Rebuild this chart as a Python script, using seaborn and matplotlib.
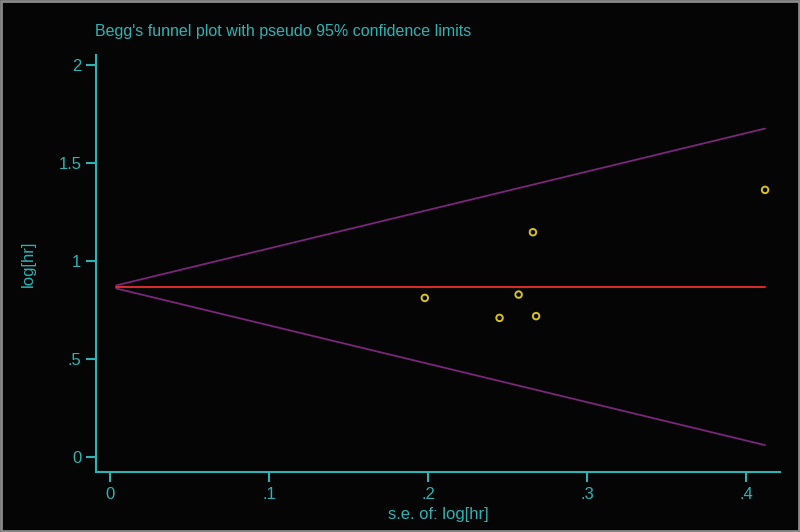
import matplotlib
matplotlib.use("Agg")
import matplotlib.pyplot as plt
import matplotlib.ticker as ticker
import pandas as pd
import seaborn as sns

# study estimates
se = [0.198, 0.245, 0.257, 0.266, 0.268, 0.412]
loghr = [0.811, 0.709, 0.828, 1.146, 0.718, 1.362]

# pooled estimate and pseudo 95% limits
pooled = 0.867
line_se = [0.004, 0.412]
upper = [0.875, 1.675]
lower = [0.859, 0.060]

xticks = [0, 0.1, 0.2, 0.3, 0.4]
xlabels = ["0", ".1", ".2", ".3", ".4"]
yticks = [0, 0.5, 1, 1.5, 2]
ylabels = ["0", ".5", "1", "1.5", "2"]

CYAN = "#2cb4b4"
PURPLE = "#7a267a"
RED = "#d42a2a"
YELLOW = "#d8c21e"

sns.set_style("dark")
plt.rcParams["font.family"] = ["Liberation Sans Narrow", "Liberation Sans", "DejaVu Sans"]

pts = pd.DataFrame({"se": se, "loghr": loghr})
lim = pd.DataFrame({"se": line_se * 2,
                    "val": upper + lower,
                    "side": ["upper"] * 2 + ["lower"] * 2})
pool = pd.DataFrame({"se": line_se, "val": [pooled, pooled]})

fig = plt.figure(figsize=(8, 5.32), dpi=100, facecolor="#050505")
ax = fig.add_axes([0.12, 0.1128, 0.855, 0.7838])
ax.set_facecolor("#050505")

sns.lineplot(data=lim, x="se", y="val", units="side", estimator=None,
             color=PURPLE, lw=1.3, ax=ax)
sns.lineplot(data=pool, x="se", y="val", color=RED, lw=1.5, ax=ax)
sns.scatterplot(data=pts, x="se", y="loghr", marker="o", s=22,
                facecolor="none", edgecolor=YELLOW, linewidth=1.4, ax=ax, zorder=5)

ax.set_xlim(-0.0088, 0.4214)
ax.set_ylim(-0.077, 2.05)
ax.set_xticks(xticks)
ax.set_xticklabels(xlabels)
ax.set_yticks(yticks)
ax.set_yticklabels(ylabels)
ax.grid(False)

for s in ["top", "right"]:
    ax.spines[s].set_visible(False)
for s in ["left", "bottom"]:
    ax.spines[s].set_visible(True)
    ax.spines[s].set_color(CYAN)
    ax.spines[s].set_linewidth(1.5)

ax.tick_params(axis="both", colors=CYAN, labelcolor=CYAN, length=7, width=1.5,
               labelsize=12, direction="out", left=True, bottom=True)
ax.set_xlabel("s.e. of: log[hr]", color=CYAN, fontsize=12, labelpad=4)
ax.set_ylabel("log[hr]", color=CYAN, fontsize=12, labelpad=16)

fig.text(0.119, 0.94, "Begg's funnel plot with pseudo 95% confidence limits",
         color=CYAN, fontsize=11.5, ha="left", va="center")

# grey frame round the whole picture
fig.patches.append(plt.Rectangle((0.001, 0.001), 0.998, 0.997, transform=fig.transFigure,
                                 fill=False, edgecolor="#8a8a8a", lw=2))

fig.savefig("out.png", dpi=100, facecolor=fig.get_facecolor())
